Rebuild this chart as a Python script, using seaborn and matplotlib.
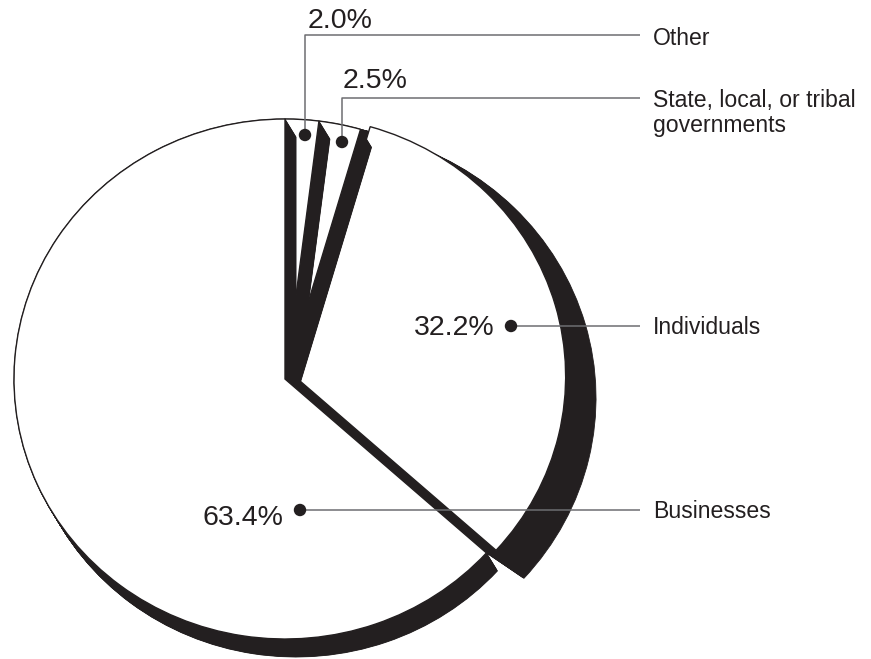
import numpy as np
import matplotlib
matplotlib.use("Agg")
import matplotlib.pyplot as plt
import seaborn as sns

# ---- data ----
categories = ["Other", "State, local, or tribal\ngovernments", "Individuals", "Businesses"]
shares = [2.0, 2.5, 32.2, 63.4]
pct_labels = ["2.0%", "2.5%", "32.2%", "63.4%"]

sns.set_theme(style="white")
plt.rcParams['font.family'] = ['Liberation Sans', 'DejaVu Sans']

W, H = 871, 659
CX, CY = 285, 379      # pie centre (px)
RX, RY = 271, 260      # px per data unit


def px(x, y):
    return ((x - CX) / RX, (CY - y) / RY)


INK = '#231f20'
GRAY = '#6d6e71'

fig = plt.figure(figsize=(W / 100, H / 100), dpi=100)
ax = fig.add_axes([0, 0, 1, 1])

explode = [0, 0, 0.037, 0]
face_z = [6, 4, 2, 8]
shadow_z = [5, 3, 1, 7]
common = dict(startangle=90, counterclock=False, normalize=True)

# extruded shadows (sweep of black wedges)
N = 40
sc = (11 / RX, -18 / RY)
si = (30 / RX, -19 / RY)
dr = 0.037
for t in np.linspace(0, 1, N):
    w1, _ = ax.pie(shares, radius=1, center=(t * sc[0], t * sc[1]),
                   colors=[INK] * 4,
                   wedgeprops=dict(linewidth=0.6, edgecolor=INK), **common)
    for i, w in enumerate(w1):
        if i == 2:
            w.set_visible(False)
        else:
            w.set_zorder(shadow_z[i])
    w2, _ = ax.pie(shares, radius=1 + t * dr, center=(t * si[0], t * si[1]),
                   colors=[INK] * 4,
                   wedgeprops=dict(linewidth=0.6, edgecolor=INK), **common)
    for i, w in enumerate(w2):
        if i != 2:
            w.set_visible(False)
        else:
            w.set_zorder(shadow_z[i])

faces, _ = ax.pie(shares, explode=explode, radius=1, colors=['white'] * 4,
                  wedgeprops=dict(linewidth=1.0, edgecolor=INK), **common)
for i, w in enumerate(faces):
    w.set_zorder(face_z[i])

# ---- leaders, dots, labels (layout in px) ----
leaders = [
    [(305, 135), (305, 35), (640, 35)],
    [(342, 142), (342, 98), (640, 98)],
    [(511, 326), (640, 326)],
    [(300, 510), (640, 510)],
]
pct_pos = [(308, 28, 'left'), (343, 88, 'left'), (495, 335, 'right'), (283, 525, 'right')]
lab_base = [45, 107, 334, 518]
LAB_X = 653

for pts in leaders:
    d = np.array([px(*p) for p in pts])
    ax.plot(d[:, 0], d[:, 1], color=GRAY, lw=1.1, zorder=10, solid_capstyle='butt')

dots = np.array([px(*pts[0]) for pts in leaders])
sns.scatterplot(x=dots[:, 0], y=dots[:, 1], s=80, color=INK, edgecolor='none',
                zorder=11, ax=ax, legend=False)

for (x, y, ha), txt in zip(pct_pos, pct_labels):
    ax.text(*px(x, y), txt, ha=ha, va='baseline', fontsize=20.5, color=INK, zorder=12)

for yb, cat in zip(lab_base, categories):
    for k, line in enumerate(cat.split('\n')):
        ax.text(*px(LAB_X, yb + 25 * k), line, ha='left', va='baseline',
                fontsize=16.6, color=INK, zorder=12)

ax.set_aspect('auto')
ax.set_xlim(-CX / RX, (W - CX) / RX)
ax.set_ylim((CY - H) / RY, CY / RY)
ax.axis('off')

fig.savefig('out.png', dpi=100, facecolor='white')
